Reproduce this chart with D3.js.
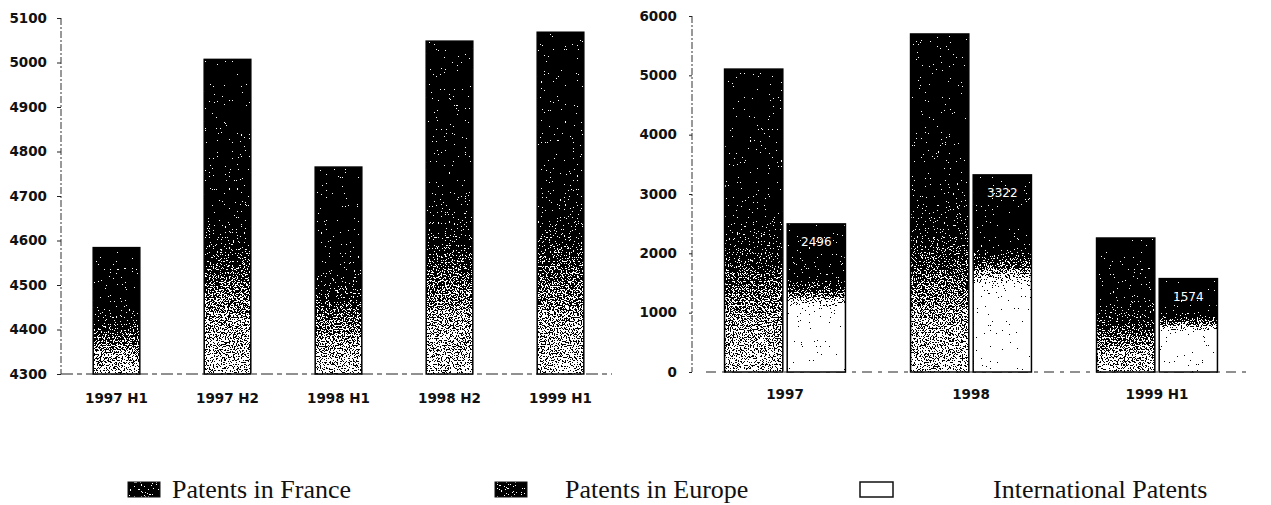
<!DOCTYPE html>
<html>
<head>
<meta charset="utf-8">
<script src="https://cdn.jsdelivr.net/npm/d3@7"></script>
<style>
  html, body { margin: 0; padding: 0; background: #fff; }
  svg { display: block; }
  .tick text { font-family: "DejaVu Sans", sans-serif; font-weight: bold; font-size: 13.5px; fill: #111; }
  .legend text { font-family: "Liberation Serif", "Times New Roman", serif; font-size: 26px; fill: #111; }
</style>
</head>
<body>
<svg id="chart" width="1271" height="505"></svg>
<script>
// Half-year filings in France
const halfYears = ["1997 H1", "1997 H2", "1998 H1", "1998 H2", "1999 H1"];
const franceHalf = [4584, 5007, 4765, 5048, 5068];
const leftTicks = [4300, 4400, 4500, 4600, 4700, 4800, 4900, 5000, 5100];

// Yearly filings: France vs Europe
const periods = ["1997", "1998", "1999 H1"];
const franceYear = [5105, 5697, 2258];
const europeYear = [2496, 3322, 1574];
const rightTicks = [0, 1000, 2000, 3000, 4000, 5000, 6000];

const legendLabels = ["Patents in France", "Patents in Europe", "International Patents"];

const svg = d3.select("#chart");
const defs = svg.append("defs");

// Speckled, dithered look for the bar fills
const grain = defs.append("filter")
  .attr("id", "grain")
  .attr("x", 0).attr("y", 0).attr("width", 1).attr("height", 1)
  .attr("color-interpolation-filters", "sRGB");
grain.append("feTurbulence")
  .attr("type", "fractalNoise").attr("baseFrequency", 0.75)
  .attr("numOctaves", 2).attr("seed", 7).attr("result", "noise");
grain.append("feColorMatrix")
  .attr("in", "noise").attr("type", "matrix")
  .attr("values", "1 0 0 0 0  1 0 0 0 0  1 0 0 0 0  0 0 0 0 1")
  .attr("result", "gray");
grain.append("feComposite")
  .attr("in", "SourceGraphic").attr("in2", "gray")
  .attr("operator", "arithmetic")
  .attr("k1", 0).attr("k2", 1).attr("k3", 1.9).attr("k4", -0.95)
  .attr("result", "mix");
const ct = grain.append("feComponentTransfer").attr("in", "mix").attr("result", "bw");
["feFuncR", "feFuncG", "feFuncB"].forEach(f =>
  ct.append(f).attr("type", "discrete").attr("tableValues", "0 1"));
grain.append("feComposite").attr("in", "bw").attr("in2", "SourceAlpha").attr("operator", "in");

function gradient(id, stops) {
  const g = defs.append("linearGradient")
    .attr("id", id).attr("x1", 0).attr("y1", 0).attr("x2", 0).attr("y2", 1);
  stops.forEach(([o, c]) => g.append("stop").attr("offset", o).attr("stop-color", c));
}
gradient("gFrance", [[0, "#050505"], [0.45, "#0e0e0e"], [0.6, "#303030"], [0.76, "#767676"], [1, "#a8a8a8"]]);
gradient("gEurope", [[0, "#050505"], [0.36, "#121212"], [0.47, "#6a6a6a"], [0.58, "#f0f0f0"], [0.66, "#ffffff"], [1, "#ffffff"]]);

function drawBar(g, x, y, w, h, fill) {
  g.append("rect").attr("x", x).attr("y", y).attr("width", w).attr("height", h)
    .attr("fill", fill).attr("filter", "url(#grain)");
  g.append("rect").attr("x", x).attr("y", y).attr("width", w).attr("height", h)
    .attr("fill", "none").attr("stroke", "#000").attr("stroke-width", 1.5);
}

function styleAxis(g) {
  g.select(".domain").remove();
  g.selectAll(".tick line").attr("stroke", "#222").attr("stroke-width", 1);
}

// ---------- Left panel ----------
const xL = d3.scaleBand().domain(halfYears).range([61, 616]).paddingInner(0.58).paddingOuter(0.29);
const yL = d3.scaleLinear().domain([4300, 5100]).range([374, 18]);

const left = svg.append("g");
left.append("line").attr("x1", 61).attr("x2", 61).attr("y1", yL(5100)).attr("y2", yL(4300))
  .attr("stroke", "#333").attr("stroke-width", 1).attr("stroke-dasharray", "7,2,2,2");
left.append("line").attr("x1", 61).attr("x2", 612).attr("y1", yL(4300)).attr("y2", yL(4300))
  .attr("stroke", "#222").attr("stroke-width", 1.2).attr("stroke-dasharray", "12,4,5,4");

left.append("g").attr("transform", "translate(61,0)")
  .call(d3.axisLeft(yL).tickValues(leftTicks).tickSize(4).tickPadding(10).tickFormat(d3.format("d")))
  .call(styleAxis);
left.append("g").attr("transform", `translate(0,${yL(4300)})`)
  .call(d3.axisBottom(xL).tickSize(0).tickPadding(19))
  .call(styleAxis);

halfYears.forEach((c, i) => {
  drawBar(left, xL(c), yL(franceHalf[i]), xL.bandwidth(), yL(4300) - yL(franceHalf[i]), "url(#gFrance)");
});

// ---------- Right panel ----------
const xR = d3.scaleBand().domain(periods).range([692, 1250]).paddingInner(0.35).paddingOuter(0.175);
const xSub = d3.scaleBand().domain(["France", "Europe"]).range([0, xR.bandwidth()]).paddingInner(0.07);
const yR = d3.scaleLinear().domain([0, 6000]).range([372, 16]);

const right = svg.append("g");
right.append("line").attr("x1", 692).attr("x2", 692).attr("y1", yR(6000)).attr("y2", yR(0))
  .attr("stroke", "#333").attr("stroke-width", 1).attr("stroke-dasharray", "7,2,2,2");
right.append("line").attr("x1", 706).attr("x2", 1248).attr("y1", yR(0)).attr("y2", yR(0))
  .attr("stroke", "#222").attr("stroke-width", 1.2).attr("stroke-dasharray", "10,6,4,6");

right.append("g").attr("transform", "translate(692,0)")
  .call(d3.axisLeft(yR).tickValues(rightTicks).tickSize(3).tickPadding(12).tickFormat(d3.format("d")))
  .call(styleAxis);
right.append("g").attr("transform", `translate(0,${yR(0)})`)
  .call(d3.axisBottom(xR).tickSize(0).tickPadding(17))
  .call(styleAxis);

periods.forEach((p, i) => {
  const gx = xR(p);
  drawBar(right, gx + xSub("France"), yR(franceYear[i]), xSub.bandwidth(), yR(0) - yR(franceYear[i]), "url(#gFrance)");
  drawBar(right, gx + xSub("Europe"), yR(europeYear[i]), xSub.bandwidth(), yR(0) - yR(europeYear[i]), "url(#gEurope)");
  right.append("text")
    .attr("x", gx + xSub("Europe") + xSub.bandwidth() / 2)
    .attr("y", yR(europeYear[i]) + 22)
    .attr("text-anchor", "middle")
    .attr("font-family", "DejaVu Sans, sans-serif")
    .attr("font-size", 12)
    .attr("fill", "#fff")
    .text(europeYear[i]);
});

// ---------- Legend ----------
const legend = svg.append("g").attr("class", "legend");
const legendItems = [
  { label: legendLabels[0], sx: 128, tx: 172, kind: "dark" },
  { label: legendLabels[1], sx: 495, tx: 565, kind: "dark" },
  { label: legendLabels[2], sx: 860, tx: 993, kind: "open" }
];
legendItems.forEach(d => {
  if (d.kind === "dark") {
    legend.append("rect").attr("x", d.sx).attr("y", 482).attr("width", 32).attr("height", 15)
      .attr("fill", "#2a2a2a").attr("filter", "url(#grain)");
    legend.append("rect").attr("x", d.sx).attr("y", 482).attr("width", 32).attr("height", 15)
      .attr("fill", "none").attr("stroke", "#111").attr("stroke-width", 1);
  } else {
    legend.append("rect").attr("x", d.sx).attr("y", 482).attr("width", 33).attr("height", 15)
      .attr("fill", "#fff").attr("stroke", "#111").attr("stroke-width", 1.5);
  }
  legend.append("text").attr("x", d.tx).attr("y", 498).text(d.label);
});
</script>
</body>
</html>
